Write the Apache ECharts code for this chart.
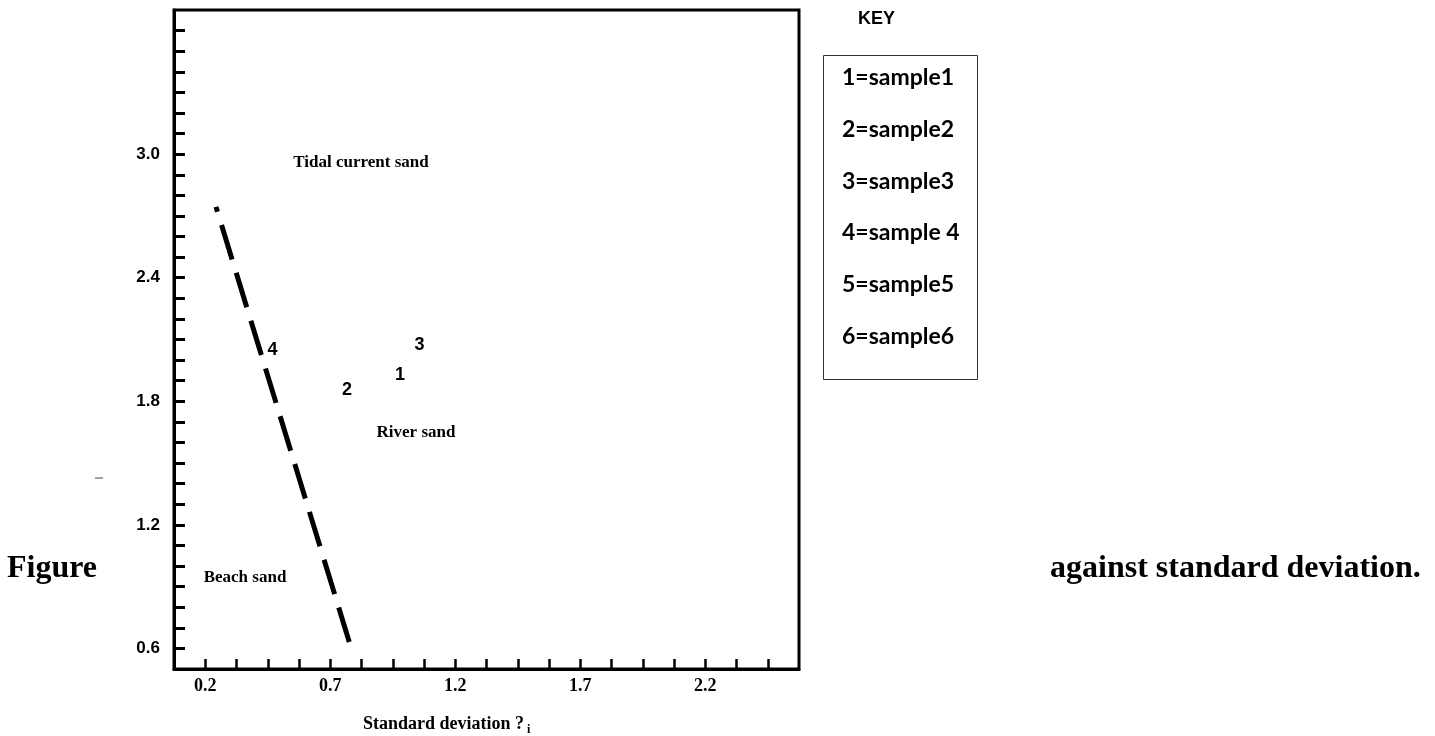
<!DOCTYPE html>
<html>
<head>
<meta charset="utf-8">
<script src="https://cdn.jsdelivr.net/npm/echarts@6/dist/echarts.min.js"></script>
<style>
html,body{margin:0;padding:0;background:#fff}
#main{width:1435px;height:736px}
</style>
</head>
<body>
<div id="main"></div>
<script>
// tick labels that are printed on the axes
var xTickLabels = [0.2, 0.7, 1.2, 1.7, 2.2];
var yTickLabels = [0.6, 1.2, 1.8, 2.4, 3.0];

// sample numbers plotted in the field
var sampleNames = ['1', '2', '3', '4'];
var sampleX = [0.979, 0.767, 1.057, 0.469];
var sampleY = [1.927, 1.854, 2.073, 2.049];

// environment labels
var zoneNames = ['Tidal current sand', 'River sand', 'Beach sand'];
var zoneX = [0.823, 1.043, 0.359];
var zoneY = [2.957, 1.65, 0.946];

// dashed boundary line
var boundaryX = [0.243, 0.787];
var boundaryY = [2.744, 0.588];

var keyLabels = ['1=sample1', '2=sample2', '3=sample3', '4=sample 4', '5=sample5', '6=sample6'];

function near(v, list){
	for (var i = 0; i < list.length; i++){
		if (Math.abs(v - list[i]) < 1e-6) return true;
	}
	return false;
}

var myChart = echarts.init(document.getElementById('main'));

var samples = [];
for (var i = 0; i < sampleNames.length; i++){
	samples.push({value: [sampleX[i], sampleY[i]], name: sampleNames[i]});
}
var zones = [];
for (var i = 0; i < zoneNames.length; i++){
	zones.push({value: [zoneX[i], zoneY[i]], name: zoneNames[i]});
}
var boundary = [];
for (var i = 0; i < boundaryX.length; i++){
	boundary.push([boundaryX[i], boundaryY[i]]);
}

var graphics = [
	{type: 'text', left: 7, top: 553, style: {text: 'Figure', font: 'bold 32px "Liberation Serif"', fill: '#000'}},
	{type: 'text', left: 1050, top: 553, style: {text: 'against standard deviation.', font: 'bold 32px "Liberation Serif"', fill: '#000'}},
	{type: 'line', shape: {x1: 95, y1: 478, x2: 103, y2: 478}, style: {stroke: '#444', lineWidth: 1}},
	{type: 'text', left: 363, top: 715, style: {text: 'Standard deviation ?', font: 'bold 18px "Liberation Serif"', fill: '#000'}},
	{type: 'text', left: 527, top: 724, style: {text: 'i', font: 'bold 12px "Liberation Serif"', fill: '#000'}},
	{type: 'text', left: 858, top: 10, style: {text: 'KEY', font: 'bold 18px "Liberation Sans"', fill: '#000'}},
	{type: 'rect', shape: {x: 823.5, y: 55.5, width: 154, height: 324}, style: {fill: 'none', stroke: '#333', lineWidth: 1}}
];
for (var i = 0; i < keyLabels.length; i++){
	graphics.push({
		type: 'text', left: 842, top: 66 + i * 51.8,
		style: {text: keyLabels[i], font: 'bold 23px "Lato"', fill: '#000'}
	});
}

option = {
	animation: false,
	backgroundColor: '#fff',
	grid: {
		left: 174, top: 10, right: 636, bottom: 67,
		show: true, borderColor: '#000', borderWidth: 3
	},
	xAxis: {
		type: 'value',
		min: 0.075, max: 2.575, interval: 0.125,
		axisLine: {show: true, lineStyle: {color: '#000', width: 3}},
		axisTick: {show: true, inside: true, length: 10, lineStyle: {color: '#000', width: 2.5}},
		splitLine: {show: false},
		axisLabel: {
			margin: 8,
			color: '#000',
			fontFamily: 'Liberation Serif', fontWeight: 'bold', fontSize: 18,
			showMinLabel: false, showMaxLabel: false,
			formatter: function(v){ return near(v, xTickLabels) ? v.toFixed(1) : ''; }
		}
	},
	yAxis: {
		type: 'value',
		min: 0.5, max: 3.7, interval: 0.1,
		axisLine: {show: true, lineStyle: {color: '#000', width: 3}},
		axisTick: {show: true, inside: true, length: 11, lineStyle: {color: '#000', width: 3}},
		splitLine: {show: false},
		axisLabel: {
			margin: 14,
			color: '#000',
			fontFamily: 'Liberation Sans', fontWeight: 'bold', fontSize: 17,
			showMinLabel: false, showMaxLabel: false,
			formatter: function(v){ return near(v, yTickLabels) ? v.toFixed(1) : ''; }
		}
	},
	series: [
		{
			name: 'boundary',
			type: 'line',
			data: boundary,
			symbol: 'none',
			lineStyle: {color: '#000', width: 5, type: [36, 14], dashOffset: 31, cap: 'butt'}
		},
		{
			name: 'samples',
			type: 'scatter',
			data: samples,
			symbolSize: 0,
			itemStyle: {opacity: 1},
			label: {
				show: true, position: 'inside',
				formatter: '{b}',
				color: '#000', opacity: 1, fontFamily: 'Liberation Sans', fontWeight: 'bold', fontSize: 18
			}
		},
		{
			name: 'zones',
			type: 'scatter',
			data: zones,
			symbolSize: 0,
			itemStyle: {opacity: 1},
			label: {
				show: true, position: 'inside',
				formatter: '{b}',
				color: '#000', opacity: 1, fontFamily: 'Liberation Serif', fontWeight: 'bold', fontSize: 17
			}
		}
	],
	graphic: graphics
};

myChart.setOption(option);
</script>
</body>
</html>
